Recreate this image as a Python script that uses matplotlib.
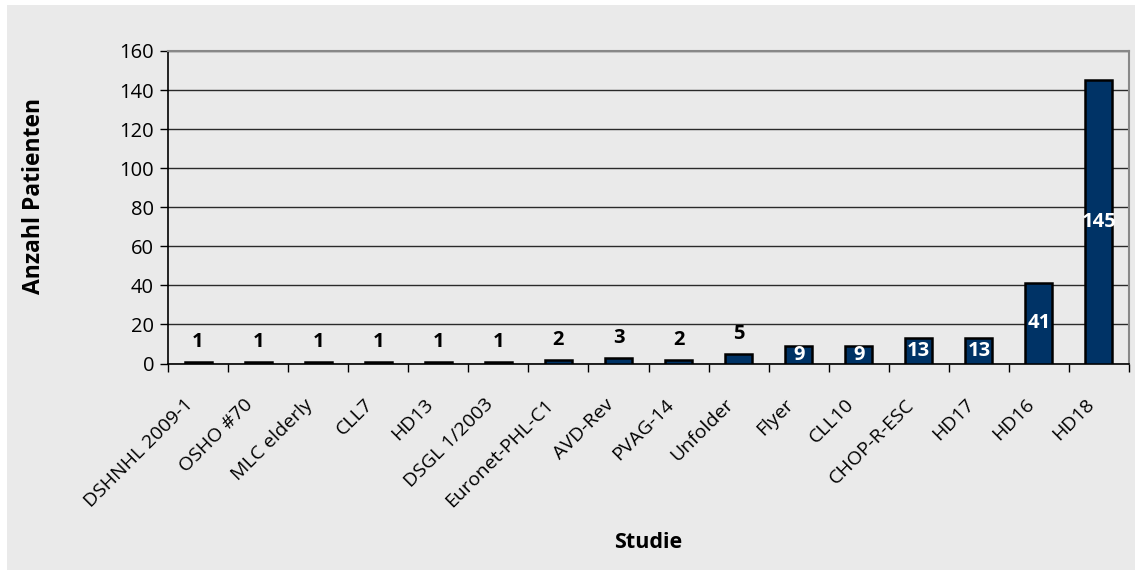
import matplotlib.pyplot as plt
from matplotlib.patches import Rectangle
from matplotlib.transforms import ScaledTranslation

plt.rcParams["font.family"] = ["Open Sans", "DejaVu Sans"]

studien = [
    "DSHNHL 2009-1", "OSHO #70", "MLC elderly", "CLL7", "HD13", "DSGL 1/2003",
    "Euronet-PHL-C1", "AVD-Rev", "PVAG-14", "Unfolder", "Flyer", "CLL10",
    "CHOP-R-ESC", "HD17", "HD16", "HD18",
]
patienten = [1, 1, 1, 1, 1, 1, 2, 3, 2, 5, 9, 9, 13, 13, 41, 145]

W, H = 1135, 570
fig = plt.figure(figsize=(W / 100, H / 100), dpi=100, facecolor="white")

# grauer Hintergrund des Diagrammbereichs
fig.patches.append(Rectangle((7 / W, 0), 1 - 7 / W, 1 - 5 / H,
                             transform=fig.transFigure, facecolor="#eaeaea",
                             edgecolor="none", zorder=-10))

ax = fig.add_axes([168 / W, 1 - 363.5 / H, (1129 - 168) / W, (363.5 - 51) / H])
ax.set_facecolor("#eaeaea")

x = list(range(len(studien)))
bars = ax.bar(x, patienten, width=0.45, color="#003366", edgecolor="black",
              linewidth=1.8, zorder=3)

for b, v in zip(bars, patienten):
    cx = b.get_x() + b.get_width() / 2
    if v >= 9:
        ax.text(cx, v / 2, str(v), ha="center", va="center", color="white",
                fontsize=14.5, fontweight="bold", zorder=4)
    else:
        ax.annotate(str(v), (cx, v), xytext=(0, 14), textcoords="offset points",
                    ha="center", va="center", color="black",
                    fontsize=14.5, fontweight="bold", zorder=4)

ax.set_xlim(-0.5, len(studien) - 0.5)
ax.set_ylim(0, 160)
ax.set_yticks(range(0, 161, 20))
ax.grid(True, axis="y", color="#2a2a2a", linewidth=1, zorder=1)
ax.set_axisbelow(True)

# Teilstriche zwischen den Kategorien, Beschriftung schräg darunter
ax.set_xticks([i + 0.5 for i in range(-1, len(studien))])
ax.set_xticklabels([])
ax.tick_params(axis="x", length=6, width=1, direction="out")
ax.tick_params(axis="y", length=6, width=1, labelsize=14.5, pad=4)

shift = ScaledTranslation(-14 / 100, -32 / 100, fig.dpi_scale_trans)
for i, name in enumerate(studien):
    ax.text(i, 0, name, transform=ax.get_xaxis_transform() + shift,
            rotation=45, rotation_mode="anchor", ha="right", va="top",
            fontsize=14)

for s in ["left", "bottom"]:
    ax.spines[s].set_color("black")
    ax.spines[s].set_linewidth(1.2)
for s in ["top", "right"]:
    ax.spines[s].set_color("#888888")
    ax.spines[s].set_linewidth(1.5)

fig.text(34 / W, 1 - 196 / H, "Anzahl Patienten", rotation=90, ha="center",
         va="center", fontsize=16.5, fontweight="bold")
fig.text(648 / W, 1 - 543 / H, "Studie", ha="center", va="center",
         fontsize=15.5, fontweight="bold")

fig.savefig("out.png", dpi=100, facecolor=fig.get_facecolor())
